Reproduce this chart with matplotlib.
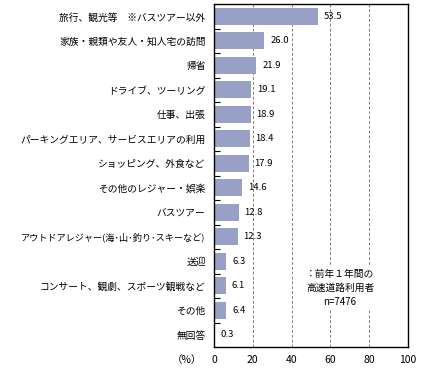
import matplotlib
matplotlib.use("Agg")
import matplotlib.pyplot as plt

plt.rcParams['font.family'] = ['Noto Sans CJK JP', 'DejaVu Sans']

categories = ["旅行、観光等　※バスツアー以外", "家族・親類や友人・知人宅の訪問", "帰省",
              "ドライブ、ツーリング", "仕事、出張", "パーキングエリア、サービスエリアの利用",
              "ショッピング、外食など", "その他のレジャー・娯楽", "バスツアー",
              "アウトドアレジャー(海･山･釣り･スキーなど)", "送迎",
              "コンサート、観劇、スポーツ観戦など", "その他", "無回答"]
values = [53.5, 26.0, 21.9, 19.1, 18.9, 18.4, 17.9, 14.6, 12.8, 12.3, 6.3, 6.1, 6.4, 0.3]
xticks = [0, 20, 40, 60, 80, 100]
note = "：前年１年間の\n高速道路利用者\nn=7476"

fig = plt.figure(figsize=(4.22, 3.70), dpi=100)
ax = fig.add_axes([0.507, 0.062, 0.460, 0.927])

y = list(range(len(categories)))
ax.barh(y, values, height=0.68, color='#99a0c6', zorder=2)
for yi, v in zip(y, values):
    ax.text(v + 3, yi, f"{v:.1f}", va='center', ha='left', fontsize=6.8, zorder=4)

ax.set_xlim(0, 100)
ax.set_ylim(len(categories) - 0.5, -0.5)
ax.set_xticks(xticks)
ax.set_xticklabels([str(t) for t in xticks], fontsize=7.5)
ax.tick_params(axis='x', length=0, pad=6)
ax.set_yticks(y)
ax.set_yticklabels(categories, fontsize=7.0)
ax.get_yticklabels()[9].set_fontsize(6.6)
ax.tick_params(axis='y', length=0, pad=6)
# small ticks between categories on left spine
ax.set_yticks([i + 0.5 for i in range(len(categories) - 1)], minor=True)
ax.tick_params(axis='y', which='minor', direction='in', length=4, width=0.8)

for g in xticks[1:-1]:
    ax.axvline(g, color='#808080', linestyle=(0, (3, 2)), linewidth=0.7, zorder=1)
for s in ax.spines.values():
    s.set_linewidth(1.0)

ax.text(65, 11.1, note, ha='center', va='center', fontsize=7, linespacing=1.5,
        bbox=dict(facecolor='white', edgecolor='none', pad=2), zorder=3)
fig.text(187 / 422, 1 - 360 / 370, "（%）", ha='center', va='center', fontsize=7.5)

fig.savefig("out.png", dpi=100)
